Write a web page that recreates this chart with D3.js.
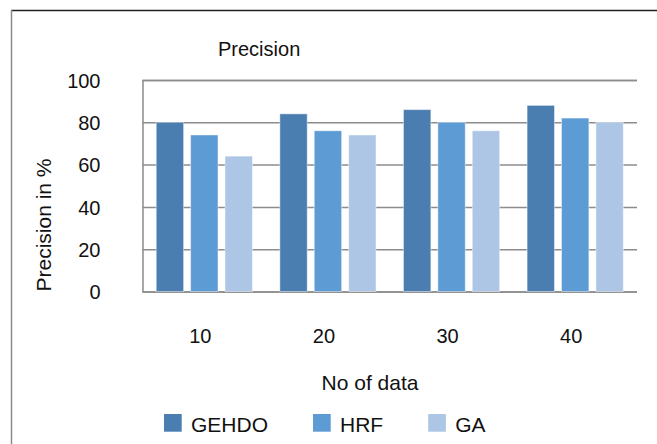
<!DOCTYPE html>
<html>
<head>
<meta charset="utf-8">
<script src="https://cdn.jsdelivr.net/npm/d3@7"></script>
<style>
  html, body { margin: 0; padding: 0; background: #fff; }
  svg { display: block; font-family: "Liberation Sans", Arial, sans-serif; }
</style>
</head>
<body>
<svg id="chart" width="657" height="444"></svg>
<script>
// Precision (%) by number of data items, for three methods
const categories = ["10", "20", "30", "40"];
const seriesNames = ["GEHDO", "HRF", "GA"];
const gehdo = [80, 84, 86, 88];
const hrf = [74, 76, 80, 82];
const ga = [64, 74, 76, 80];
const yTicks = [0, 20, 40, 60, 80, 100];
const seriesColors = ["#4a7eb1", "#5d9bd4", "#adc6e6"];

const seriesValues = [gehdo, hrf, ga];
const rows = categories.map((c, i) => ({
  category: c,
  values: seriesNames.map((s, j) => ({ series: s, value: seriesValues[j][i] }))
}));

const svg = d3.select("#chart");

// outer frame: top and left edges
svg.append("line").attr("x1", 11).attr("x2", 657).attr("y1", 10.5).attr("y2", 10.5)
  .attr("stroke", "#222").attr("stroke-width", 1.5);
svg.append("line").attr("x1", 11.5).attr("x2", 11.5).attr("y1", 10).attr("y2", 444)
  .attr("stroke", "#8a8a8a").attr("stroke-width", 1.5);

const plot = { left: 142.5, right: 637, top: 80, bottom: 291.5 };

const x = d3.scaleBand().domain(categories)
  .range([plot.left, plot.right]).paddingInner(0.222).paddingOuter(0.111);
const xs = d3.scaleBand().domain(seriesNames)
  .range([0, x.bandwidth()]).paddingInner(0.204).paddingOuter(0);
const y = d3.scaleLinear().domain([0, 100]).range([plot.bottom, plot.top]);
const color = d3.scaleOrdinal().domain(seriesNames).range(seriesColors);

// horizontal gridlines
const yAxis = d3.axisLeft(y).tickValues(yTicks).tickSize(-(plot.right - plot.left)).tickFormat(d3.format("d"));
const gy = svg.append("g").attr("transform", `translate(${plot.left},0)`).call(yAxis);
gy.select(".domain").attr("stroke", "#8c8c8c").attr("stroke-width", 1.5);
gy.selectAll(".tick line").attr("stroke", "#8c8c8c").attr("stroke-width", 1.5);
gy.selectAll(".tick text").attr("x", -42).attr("dy", "0.36em")
  .attr("fill", "#111").style("font-size", "20px");

// bars
const groups = svg.append("g").selectAll("g").data(rows).join("g")
  .attr("transform", d => `translate(${x(d.category)},0)`);
groups.selectAll("rect").data(d => d.values).join("rect")
  .attr("x", d => xs(d.series))
  .attr("width", xs.bandwidth())
  .attr("y", d => y(d.value))
  .attr("height", d => y(0) - y(d.value))
  .attr("fill", d => color(d.series))
  .attr("stroke", "rgba(255,255,255,0.45)")
  .attr("stroke-width", 1);

// x axis labels
const xAxis = d3.axisBottom(x).tickSize(0);
const gx = svg.append("g").attr("transform", `translate(-4,${plot.bottom})`).call(xAxis);
gx.select(".domain").remove();
gx.selectAll(".tick text").attr("y", 37).attr("dy", "0.71em")
  .attr("fill", "#111").style("font-size", "20px");

// titles
svg.append("text").attr("x", 218).attr("y", 56).text("Precision")
  .attr("fill", "#111").style("font-size", "20px");
svg.append("text").attr("x", 370).attr("y", 390).attr("text-anchor", "middle")
  .text("No of data").attr("fill", "#111").style("font-size", "21px");
svg.append("text").attr("transform", "translate(51,225) rotate(-90)")
  .attr("text-anchor", "middle").text("Precision in %")
  .attr("fill", "#111").style("font-size", "21px");

// legend
const legend = svg.append("g").attr("transform", "translate(164,414)");
let lx = 0;
seriesNames.forEach(name => {
  const item = legend.append("g").attr("transform", `translate(${lx},0)`);
  item.append("rect").attr("width", 17.7).attr("height", 17.7).attr("fill", color(name));
  const t = item.append("text").attr("x", 27).attr("y", 18).text(name)
    .attr("fill", "#111").style("font-size", "21px");
  lx += 27 + t.node().getComputedTextLength() + 45;
});
</script>
</body>
</html>
